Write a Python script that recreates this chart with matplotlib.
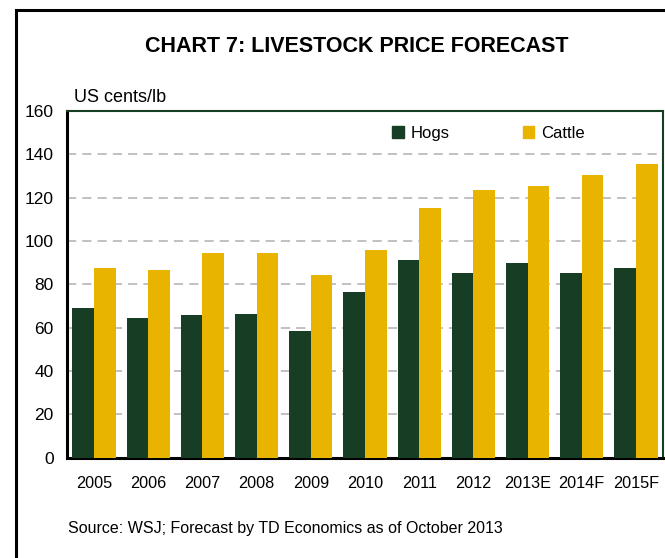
import matplotlib.pyplot as plt
import numpy as np
from matplotlib.patches import Rectangle, Patch

plt.rcParams['font.family'] = ['Liberation Sans', 'DejaVu Sans']

# data
anos = ['2005', '2006', '2007', '2008', '2009', '2010', '2011', '2012', '2013E', '2014F', '2015F']
hogs = [69.2, 64.6, 66.0, 66.4, 58.6, 76.2, 91.0, 85.4, 90.0, 85.4, 87.3]
cattle = [87.7, 86.8, 94.2, 94.2, 84.5, 95.6, 115.0, 123.4, 125.2, 130.3, 135.4]

verde = '#173d24'
amarelo = '#e8b400'

W, H = 665, 558
fig = plt.figure(figsize=(W / 100, H / 100), dpi=100)

# moldura preta (cortada a direita e embaixo)
fig.patches.append(Rectangle((16 / W, -0.1), 2, 1.1 - 10 / H, transform=fig.transFigure,
                             fill=False, edgecolor='black', linewidth=2.2))

ax = fig.add_axes([67 / W, 1 - 457.5 / H, 596 / W, 346.5 / H])

x = np.arange(len(anos))
larg = 0.4
ax.bar(x - larg / 2, hogs, larg, color=verde, label='Hogs', zorder=3)
ax.bar(x + larg / 2, cattle, larg, color=amarelo, label='Cattle', zorder=3)

ax.set_xlim(-0.5, len(anos) - 0.5)
ax.set_ylim(0, 160)
ax.set_yticks(range(0, 161, 20))
ax.set_xticks(x)
ax.set_xticklabels(anos)
ax.tick_params(axis='y', length=0, pad=9.5, labelsize=12.5)
ax.tick_params(axis='x', length=0, pad=13, labelsize=11.7)

ax.yaxis.grid(True, linestyle=(0, (6, 4)), color='#b0b0b0', linewidth=1.1, zorder=0)

ax.spines['left'].set_color('black')
ax.spines['left'].set_linewidth(2.2)
ax.spines['bottom'].set_color('black')
ax.spines['bottom'].set_linewidth(2.2)
ax.spines['top'].set_color(verde)
ax.spines['top'].set_linewidth(1.5)
ax.spines['right'].set_color(verde)
ax.spines['right'].set_linewidth(1.5)

ax.legend(handles=[Patch(color=verde, label='Hogs'), Patch(color=amarelo, label='Cattle')],
          loc='upper left', bbox_to_anchor=(0.52, 1.0), ncol=2, frameon=False,
          fontsize=12, handlelength=0.7, handleheight=0.7, handletextpad=0.4, columnspacing=4.4)

fig.text(357 / W, 1 - 46 / H, 'CHART 7: LIVESTOCK PRICE FORECAST', ha='center', va='center',
         fontsize=15.5, fontweight='bold')
fig.text(74 / W, 1 - 97 / H, 'US cents/lb', ha='left', va='center', fontsize=13)
fig.text(68 / W, 1 - 528 / H, 'Source: WSJ; Forecast by TD Economics as of October 2013',
         ha='left', va='center', fontsize=11.5)

fig.savefig('out.png', dpi=100)
